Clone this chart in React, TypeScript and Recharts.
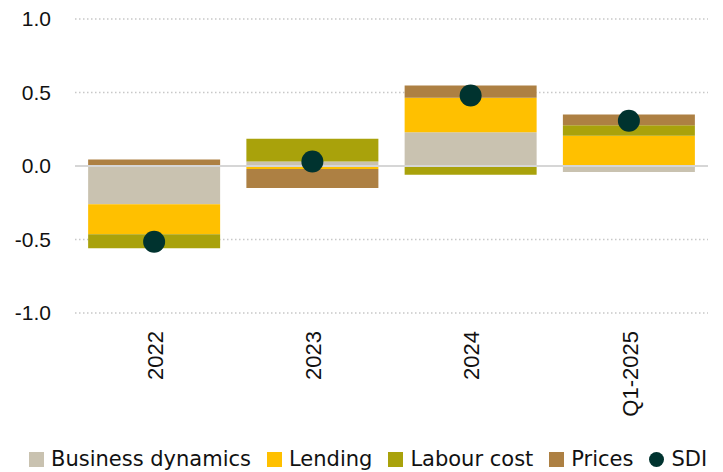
import React from "react";
import {
  ComposedChart,
  Bar,
  Line,
  XAxis,
  YAxis,
  CartesianGrid,
  ReferenceLine,
  Legend,
} from "recharts";

const periods = ["2022", "2023", "2024", "Q1-2025"];
const businessDynamics = [-0.26, 0.03, 0.23, -0.04];
const lending = [-0.205, -0.02, 0.235, 0.205];
const labourCost = [-0.095, 0.155, -0.06, 0.073];
const prices = [0.045, -0.13, 0.083, 0.073];
const sdi = [-0.515, 0.03, 0.48, 0.308];
const yTicks = [-1, -0.5, 0, 0.5, 1];

const colors = {
  business: "#c9c2b0",
  lending: "#ffc000",
  labour: "#a9a20b",
  prices: "#ad8043",
  sdi: "#00332f",
};

const data = periods.map((p, i) => ({
  period: p,
  business: businessDynamics[i],
  lending: lending[i],
  labour: labourCost[i],
  prices: prices[i],
  sdi: sdi[i],
}));

const legendItems = [
  { label: "Business dynamics", color: colors.business, shape: "square" },
  { label: "Lending", color: colors.lending, shape: "square" },
  { label: "Labour cost", color: colors.labour, shape: "square" },
  { label: "Prices", color: colors.prices, shape: "square" },
  { label: "SDI", color: colors.sdi, shape: "circle" },
];

function LegendContent() {
  return (
    <div
      style={{
        display: "flex",
        alignItems: "center",
        height: 30,
        paddingTop: 4,
        boxSizing: "border-box",
        paddingLeft: 29,
        fontFamily: "DejaVu Sans",
        fontSize: 21,
        color: "#111",
        whiteSpace: "nowrap",
      }}
    >
      {legendItems.map((it) => (
        <div key={it.label} style={{ display: "flex", alignItems: "center", marginRight: 16 }}>
          <span
            style={{
              display: "inline-block",
              width: 15,
              height: 15,
              background: it.color,
              borderRadius: it.shape === "circle" ? "50%" : 0,
              marginRight: 7,
            }}
          />
          <span>{it.label}</span>
        </div>
      ))}
    </div>
  );
}

function XTick(props: any) {
  const { x, y, payload } = props;
  const ty = y + 18;
  return (
    <text
      x={x}
      y={ty}
      transform={`rotate(-90, ${x}, ${ty})`}
      textAnchor="end"
      dy="0.4em"
      fontFamily="Liberation Sans, Arial, sans-serif"
      fontSize={22}
      fill="#111"
    >
      {payload.value}
    </text>
  );
}

export default function App() {
  return (
    <div style={{ position: "absolute", left: 0, top: 0 }}>
      <ComposedChart
        width={723}
        height={472}
        data={data}
        stackOffset="sign"
        barCategoryGap="8.3%"
        margin={{ top: 19, right: 15, left: 0, bottom: 0 }}
      >
        <CartesianGrid
          vertical={false}
          stroke="#c8c8c8"
          strokeWidth={1.5}
          strokeDasharray="1.5 2.5"
        />
        <XAxis
          dataKey="period"
          axisLine={false}
          tickLine={false}
          tickSize={0}
          tickMargin={0}
          height={129}
          interval={0}
          tick={<XTick />}
        />
        <YAxis
          domain={[-1, 1]}
          ticks={yTicks}
          width={75}
          axisLine={false}
          tickLine={false}
          tickSize={0}
          tickMargin={24}
          tickFormatter={(v: number) => v.toFixed(1)}
          tick={{ fontFamily: "Liberation Sans, Arial, sans-serif", fontSize: 21, fill: "#111" }}
        />
        <Bar dataKey="business" stackId="a" fill={colors.business} isAnimationActive={false} />
        <Bar dataKey="lending" stackId="a" fill={colors.lending} isAnimationActive={false} />
        <Bar dataKey="labour" stackId="a" fill={colors.labour} isAnimationActive={false} />
        <Bar dataKey="prices" stackId="a" fill={colors.prices} isAnimationActive={false} />
        <ReferenceLine y={0} stroke="#d6d6d6" strokeWidth={2} />
        <Line
          dataKey="sdi"
          stroke="none"
          dot={{ r: 11, fill: colors.sdi, stroke: "none" }}
          activeDot={false}
          isAnimationActive={false}
        />
        <Legend
          verticalAlign="bottom"
          wrapperStyle={{ height: 30, left: 0, width: 723 }}
          content={<LegendContent />}
        />
      </ComposedChart>
    </div>
  );
}
